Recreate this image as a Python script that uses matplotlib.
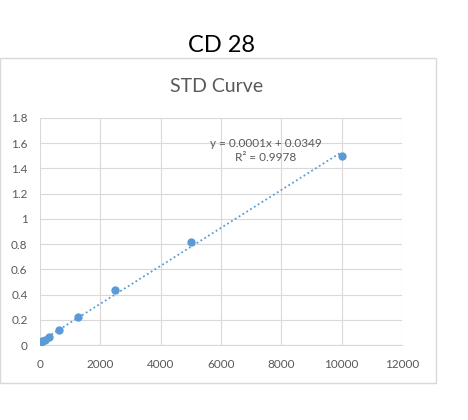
import matplotlib.pyplot as plt
from matplotlib.patches import Rectangle
import numpy as np

# Dados (série de diluição)
conc = [10000, 5000, 2500, 1250, 625, 312.5, 156.25, 78.125, 39.06, 0]
absorb = [1.50, 0.82, 0.44, 0.22, 0.115, 0.06, 0.042, 0.03, 0.022, 0.015]
xticks = [0, 2000, 4000, 6000, 8000, 10000, 12000]
yticks = [0, 0.2, 0.4, 0.6, 0.8, 1, 1.2, 1.4, 1.6, 1.8]
ytick_labels = ['0', '0.2', '0.4', '0.6', '0.8', '1', '1.2', '1.4', '1.6', '1.8']

blue = '#5b9bd5'
gray_txt = '#595959'

plt.rcParams['font.family'] = ['Lato', 'DejaVu Sans']

fig = plt.figure(figsize=(4.68, 4.2), dpi=100)
ax = fig.add_axes([40 / 468, 1 - 345 / 420, 362 / 468, 227 / 420])

# Caixa do gráfico
fig.patches.append(Rectangle((0.001, 1 - 383 / 420), 436 / 468, 325 / 420,
                             transform=fig.transFigure, fill=False,
                             edgecolor='#d9d9d9', linewidth=1))

# Linha de tendência
coef = np.polyfit(conc, absorb, 1)
xl = np.array([min(conc), max(conc)])
ax.plot(xl, np.polyval(coef, xl), linestyle=(0, (1, 1.5)), color=blue, linewidth=1.3)
ax.scatter(conc, absorb, s=36, color=blue, zorder=3, linewidths=0)

ax.set_xlim(0, 12000)
ax.set_ylim(0, 1.8)
ax.set_xticks(xticks)
ax.set_yticks(yticks)
ax.set_yticklabels(ytick_labels)
ax.grid(True, color='#d9d9d9', linewidth=0.8)
ax.set_axisbelow(True)
for s in ax.spines.values():
    s.set_visible(False)
ax.spines['bottom'].set_visible(True)
ax.spines['bottom'].set_color('#d9d9d9')
ax.tick_params(length=0, labelsize=8.5, colors=gray_txt)
ax.tick_params(axis='x', pad=10)
ax.tick_params(axis='y', pad=9)

ax.text(7490, 1.54, "y = 0.0001x + 0.0349\nR² = 0.9978", ha='center', va='center',
        fontsize=8.5, color=gray_txt, linespacing=1.35)

fig.text(222 / 468, 1 - 45 / 420, "CD 28", ha='center', va='center', fontsize=17, color='black')
fig.text(217 / 468, 1 - 86 / 420, "STD Curve", ha='center', va='center', fontsize=14, color=gray_txt)

fig.savefig('out.png', dpi=100)
